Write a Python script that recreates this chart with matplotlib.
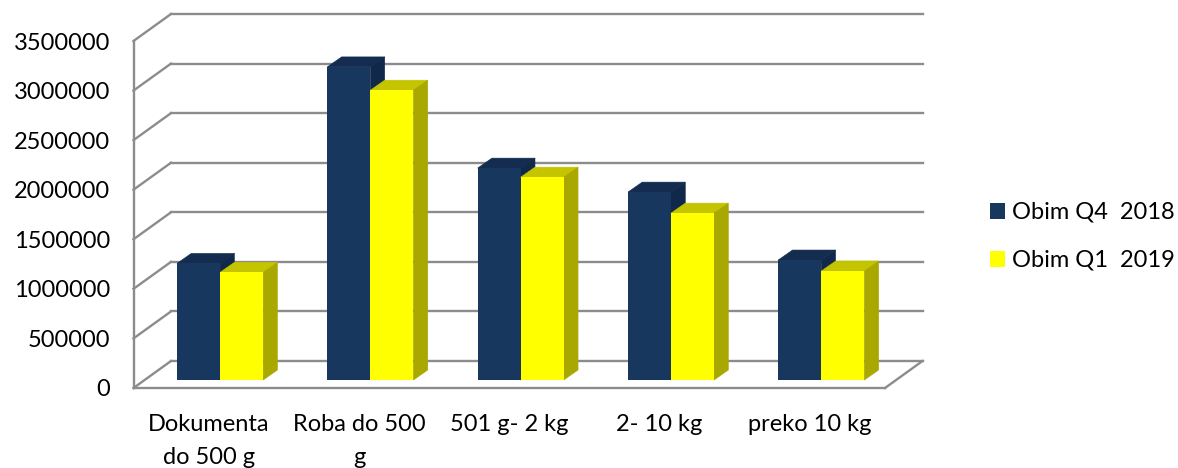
import matplotlib

matplotlib.use("Agg")

import matplotlib.pyplot as plt
from matplotlib.patches import Patch

categories = ["Dokumenta\ndo 500 g", "Roba do 500\ng", "501 g- 2 kg", "2- 10 kg", "preko 10 kg"]
obim_q4_2018 = [1176000, 3158000, 2137000, 1895000, 1210000]
obim_q1_2019 = [1086000, 2923000, 2046000, 1683000, 1099000]
y_ticks = [0, 500000, 1000000, 1500000, 2000000, 2500000, 3000000, 3500000]

WIDTH_PX, HEIGHT_PX = 1178, 468
LEFT, RIGHT, BOTTOM, TOP = 133.5, 885.0, 388.0, 41.0

GRID = "#8c8c8c"
NAVY = ("#17375e", "#132c4f", "#10284a")
YELLOW = ("#ffff00", "#c4c400", "#a8a800")

plt.rcParams["font.family"] = ["Lato", "DejaVu Sans"]

fig = plt.figure(figsize=(WIDTH_PX / 100, HEIGHT_PX / 100), dpi=100)
ax = fig.add_axes([
    LEFT / WIDTH_PX,
    1 - BOTTOM / HEIGHT_PX,
    (RIGHT - LEFT) / WIDTH_PX,
    (BOTTOM - TOP) / HEIGHT_PX,
])
ax.set_xlim(0, len(categories))
ax.set_ylim(0, y_ticks[-1])

x_per_px = len(categories) / (RIGHT - LEFT)
y_per_px = y_ticks[-1] / (BOTTOM - TOP)


def shifted(x, value, shift_x, shift_y):
    """Move a data point by a depth offset given in pixels."""
    return x + shift_x * x_per_px, value + shift_y * y_per_px


# back wall, left wall and floor
for tick in y_ticks:
    back_start = shifted(0, tick, 37.5, 27)
    back_end = shifted(len(categories), tick, 37.5, 27)
    ax.plot([back_start[0], back_end[0]], [back_start[1], back_end[1]],
            color=GRID, lw=1.7, clip_on=False, zorder=1)
    ax.plot([0, back_start[0]], [tick, back_start[1]],
            color=GRID, lw=1.7, clip_on=False, zorder=1)

floor_end = shifted(len(categories), 0, 37.5, 27)
ax.plot([len(categories), floor_end[0]], [0, floor_end[1]],
        color=GRID, lw=1.7, clip_on=False, zorder=1)


def draw_bar(x, value, bar_width, colors, zorder):
    front_x, front_y = 11.5, 8
    back_x, back_y = 25.8, 18
    x0, base = shifted(x, 0, front_x, front_y)
    x1, top = shifted(x + bar_width, value, front_x, front_y)
    x0_back, top_back = shifted(x, value, back_x, back_y)
    x1_back, base_back = shifted(x + bar_width, 0, back_x, back_y)

    ax.fill([x0, x1, x1_back, x0_back], [top, top, top_back, top_back],
            facecolor=colors[1], edgecolor=colors[1], lw=0.4, clip_on=False, zorder=zorder)
    ax.fill([x1, x1_back, x1_back, x1], [base, base_back, top_back, top],
            facecolor=colors[2], edgecolor=colors[2], lw=0.4, clip_on=False, zorder=zorder)
    ax.bar(x0, value, width=bar_width, bottom=base, align="edge",
           color=colors[0], lw=0, clip_on=False, zorder=zorder)


bar_width = 0.2865
for index, (q4, q1) in enumerate(zip(obim_q4_2018, obim_q1_2019)):
    draw_bar(index + 0.213, q4, bar_width, NAVY, 3)
    draw_bar(index + 0.213 + bar_width, q1, bar_width, YELLOW, 4)

for side in ("top", "right"):
    ax.spines[side].set_visible(False)
for side in ("left", "bottom"):
    ax.spines[side].set_color(GRID)
    ax.spines[side].set_linewidth(1.7)

ax.set_yticks(y_ticks)
ax.set_yticklabels([str(tick) for tick in y_ticks])
ax.set_xticks([index + 0.5 for index in range(len(categories))])
ax.set_xticklabels(categories, linespacing=1.75)
ax.tick_params(axis="y", length=0, pad=17, labelsize=17)
ax.tick_params(axis="x", length=0, pad=18.5, labelsize=17)

handles = [Patch(color=NAVY[0], lw=0), Patch(color=YELLOW[0], lw=0)]
fig.legend(
    handles,
    ["Obim Q4  2018", "Obim Q1  2019"],
    loc="upper left",
    bbox_to_anchor=(990 / WIDTH_PX, 1 - 202 / HEIGHT_PX),
    frameon=False,
    fontsize=17,
    handlelength=0.65,
    handleheight=0.65,
    handletextpad=0.3,
    labelspacing=1.14,
    borderpad=0,
    borderaxespad=0,
)

fig.savefig("out.png", dpi=100)
